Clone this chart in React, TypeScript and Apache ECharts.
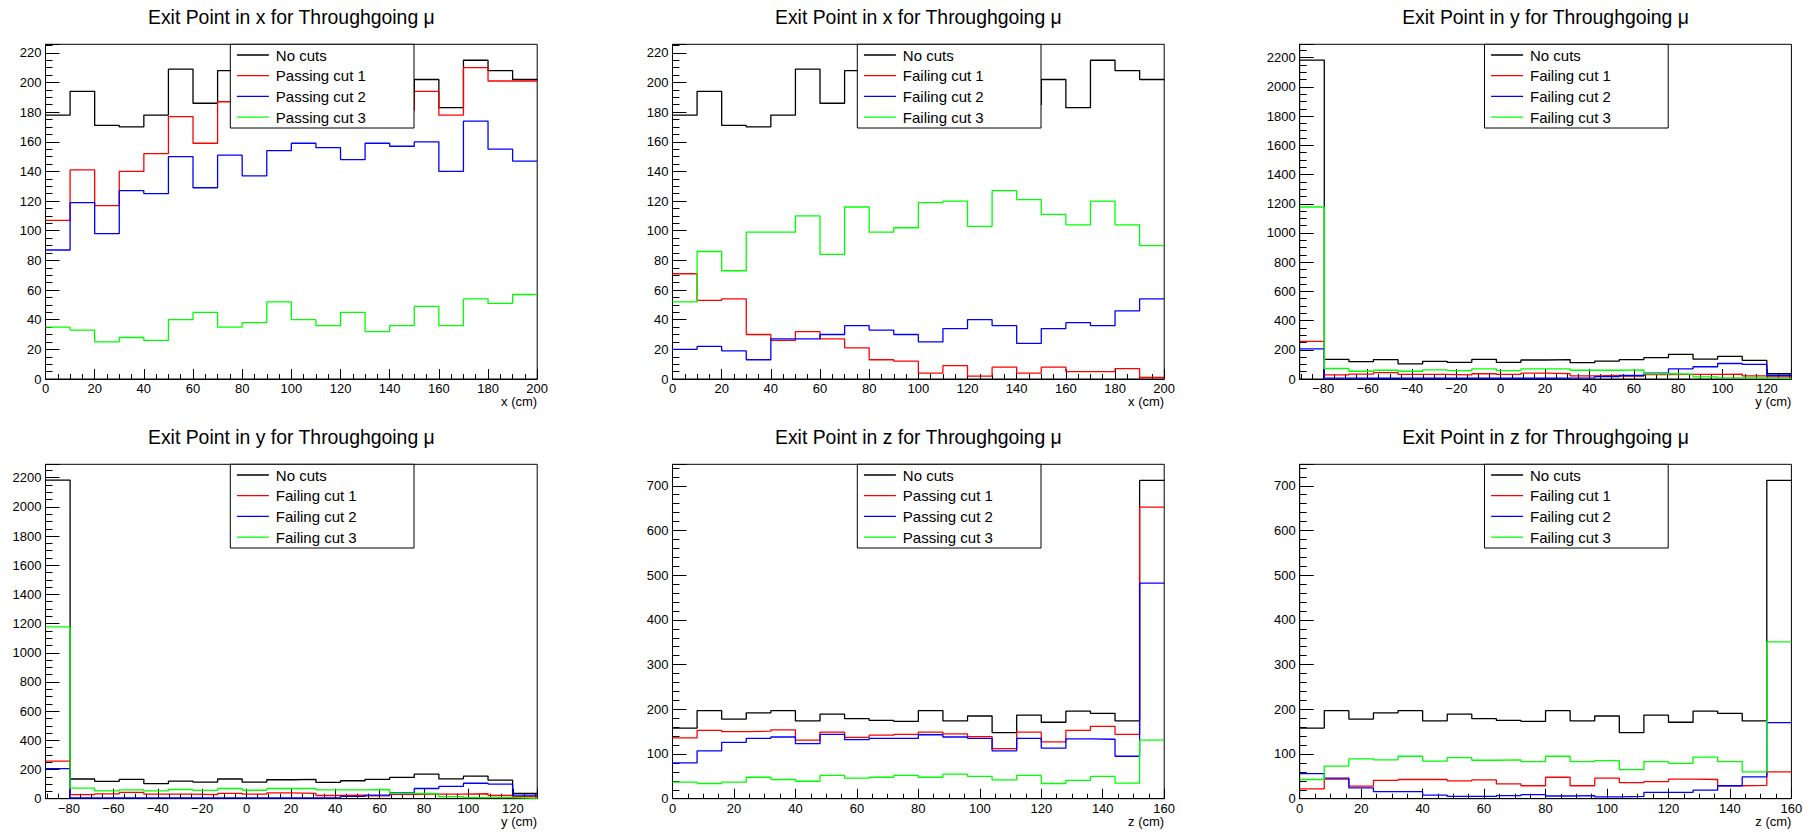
import React, { useEffect, useRef } from 'react';
import * as echarts from 'echarts';

const FONT = "'Liberation Sans', Arial, Helvetica, sans-serif";

// ---------- bin edges ----------
const xEdges = [0, 10, 20, 30, 40, 50, 60, 70, 80, 90, 100, 110, 120, 130, 140, 150, 160, 170, 180, 190, 200];
const zEdges = [0, 8, 16, 24, 32, 40, 48, 56, 64, 72, 80, 88, 96, 104, 112, 120, 128, 136, 144, 152, 160];
const yLow = -90.6;
const yHigh = 131.0;
const yEdges = Array.from({ length: 21 }, (_, k) => +(yLow + (k * (yHigh - yLow)) / 20).toFixed(3));

// ---------- exit point in x ----------
const xNoCuts = [178, 194, 171, 170, 178, 209, 186, 208, 183, 196, 188, 199, 190, 203, 185, 202, 183, 215, 208, 202];
const xPass1 = [107, 141, 117, 140, 152, 177, 159, 187, 170, 184, 184, 190, 188, 195, 181, 194, 178, 210, 201, 201];
const xPass2 = [87, 119, 98, 127, 125, 150, 129, 151, 137, 154, 159, 156, 148, 159, 157, 160, 140, 174, 155, 147];
const xPass3 = [35, 33, 25, 28, 26, 40, 45, 35, 38, 52, 40, 36, 45, 32, 36, 49, 36, 54, 51, 57];
const xFail1 = [71, 53, 54, 30, 26, 32, 27, 21, 13, 12, 4, 9, 2, 8, 4, 8, 5, 5, 7, 1];
const xFail2 = [20, 22, 19, 13, 27, 27, 30, 36, 33, 30, 25, 34, 40, 36, 24, 34, 38, 36, 46, 54];
const xFail3 = [52, 86, 73, 99, 99, 110, 84, 116, 99, 102, 119, 120, 103, 127, 121, 111, 104, 120, 104, 90];

// ---------- exit point in y ----------
const yNoCuts = [2183, 135, 119, 133, 103, 121, 114, 135, 114, 130, 133, 112, 123, 133, 146, 169, 136, 155, 128, 36];
const yFail1 = [258, 28, 33, 43, 31, 31, 28, 36, 31, 40, 37, 22, 25, 20, 30, 32, 32, 34, 22, 15];
const yFail2 = [206, 6, 5, 5, 5, 5, 5, 5, 5, 5, 6, 8, 16, 24, 40, 70, 84, 106, 100, 24];
const yFail3 = [1178, 72, 53, 60, 53, 63, 57, 70, 58, 70, 70, 60, 60, 63, 36, 34, 14, 8, 7, 3];

// ---------- exit point in z ----------
const zNoCuts = [158, 197, 178, 192, 197, 174, 189, 179, 175, 173, 197, 174, 185, 148, 187, 171, 196, 191, 174, 712];
const zPass1 = [136, 153, 150, 151, 154, 131, 149, 137, 142, 144, 149, 145, 139, 112, 149, 127, 153, 162, 144, 652];
const zPass2 = [80, 107, 126, 135, 138, 123, 144, 132, 135, 135, 143, 138, 135, 107, 135, 113, 134, 133, 95, 482];
const zPass3 = [37, 34, 37, 48, 43, 39, 52, 46, 48, 52, 48, 55, 50, 42, 52, 34, 41, 50, 35, 131];
const zFail1 = [22, 44, 28, 41, 43, 43, 40, 42, 33, 29, 48, 29, 46, 36, 38, 44, 43, 29, 30, 60];
const zFail2 = [56, 46, 24, 16, 16, 8, 5, 5, 7, 9, 6, 7, 4, 5, 14, 14, 19, 29, 49, 170];
const zFail3 = [43, 73, 89, 87, 95, 84, 92, 86, 87, 83, 95, 83, 85, 65, 83, 79, 93, 83, 60, 351];

const legendPassing = ['No cuts', 'Passing cut 1', 'Passing cut 2', 'Passing cut 3'];
const legendFailing = ['No cuts', 'Failing cut 1', 'Failing cut 2', 'Failing cut 3'];
const COLORS = ['#000000', '#ff0000', '#0000ff', '#00ff00'];

const titleX = 'Exit Point in x for Throughgoing \u03bc';
const titleY = 'Exit Point in y for Throughgoing \u03bc';
const titleZ = 'Exit Point in z for Throughgoing \u03bc';

type Panel = {
  title: string;
  edges: number[];
  series: number[][];
  names: string[];
  xMin: number;
  xMax: number;
  xInterval?: number;
  yMax: number;
  yInterval: number;
  yMinor: number;
  axisName: string;
  col: number;
  row: number;
};

const panels: Panel[] = [
  { title: titleX, edges: xEdges, series: [xNoCuts, xPass1, xPass2, xPass3], names: legendPassing, xMin: 0, xMax: 200, xInterval: 20, yMax: 225.75, yInterval: 20, yMinor: 4, axisName: 'x (cm)', col: 0, row: 0 },
  { title: titleX, edges: xEdges, series: [xNoCuts, xFail1, xFail2, xFail3], names: legendFailing, xMin: 0, xMax: 200, xInterval: 20, yMax: 225.75, yInterval: 20, yMinor: 4, axisName: 'x (cm)', col: 1, row: 0 },
  { title: titleY, edges: yEdges, series: [yNoCuts, yFail1, yFail2, yFail3], names: legendFailing, xMin: yLow, xMax: yHigh, yMax: 2292, yInterval: 200, yMinor: 4, axisName: 'y (cm)', col: 2, row: 0 },
  { title: titleY, edges: yEdges, series: [yNoCuts, yFail1, yFail2, yFail3], names: legendFailing, xMin: yLow, xMax: yHigh, yMax: 2292, yInterval: 200, yMinor: 4, axisName: 'y (cm)', col: 0, row: 1 },
  { title: titleZ, edges: zEdges, series: [zNoCuts, zPass1, zPass2, zPass3], names: legendPassing, xMin: 0, xMax: 160, xInterval: 20, yMax: 748, yInterval: 100, yMinor: 5, axisName: 'z (cm)', col: 1, row: 1 },
  { title: titleZ, edges: zEdges, series: [zNoCuts, zFail1, zFail2, zFail3], names: legendFailing, xMin: 0, xMax: 160, xInterval: 20, yMax: 748, yInterval: 100, yMinor: 5, axisName: 'z (cm)', col: 2, row: 1 },
];

// layout (pixels)
const COL_LEFT = [45.5, 672.5, 1299.7];
const PLOT_W = 491.7;
const ROW_TOP = [44.3, 464.3];
const PLOT_H = [334.7, 334.4];
const TITLE_Y = [17.3, 436.7];

const fmtNum = (v: number) => (v < 0 ? '\u2212' + String(-v) : String(v));

function buildOption() {
  const grid: any[] = [];
  const xAxis: any[] = [];
  const yAxis: any[] = [];
  const series: any[] = [];
  const graphic: any[] = [];

  panels.forEach((p, i) => {
    const left = COL_LEFT[p.col];
    const top = ROW_TOP[p.row];
    const h = PLOT_H[p.row];
    grid.push({ left, top, width: PLOT_W, height: h, show: true, borderColor: '#000', borderWidth: 1, backgroundColor: 'transparent', containLabel: false });

    const xa: any = {
      type: 'value', gridIndex: i, min: p.xMin, max: p.xMax,
      axisLine: { show: true, onZero: false, lineStyle: { color: '#000', width: 1 } },
      axisTick: { show: true, inside: true, length: 10, lineStyle: { color: '#000', width: 1 } },
      minorTick: { show: true, splitNumber: 4, length: 5, lineStyle: { color: '#000', width: 1 } },
      splitLine: { show: false },
      minorSplitLine: { show: false },
      axisLabel: {
        color: '#000', fontSize: 13, fontFamily: FONT, margin: 3,
        showMinLabel: p.xInterval ? true : false, showMaxLabel: p.xInterval ? true : false,
        formatter: (v: number) => (Math.abs(v / 20 - Math.round(v / 20)) < 1e-6 ? fmtNum(Math.round(v)) : ''),
      },
    };
    if (p.xInterval) xa.interval = p.xInterval;
    else xa.splitNumber = 11;
    xAxis.push(xa);

    yAxis.push({
      type: 'value', gridIndex: i, min: 0, max: p.yMax, interval: p.yInterval,
      axisLine: { show: true, onZero: false, lineStyle: { color: '#000', width: 1 } },
      axisTick: { show: true, inside: true, length: 14, lineStyle: { color: '#000', width: 1 } },
      minorTick: { show: true, splitNumber: p.yMinor, length: 7, lineStyle: { color: '#000', width: 1 } },
      splitLine: { show: false },
      minorSplitLine: { show: false },
      axisLabel: {
        color: '#000', fontSize: 13, fontFamily: FONT, margin: 4, showMaxLabel: false,
        formatter: (v: number) => (Math.abs(v / p.yInterval - Math.round(v / p.yInterval)) < 1e-6 ? String(Math.round(v)) : ''),
      },
    });

    p.series.forEach((vals, s) => {
      const data = p.edges.map((e, k) => [e, vals[Math.min(k, vals.length - 1)]]);
      series.push({
        type: 'line', name: p.names[s], xAxisIndex: i, yAxisIndex: i, step: 'end', data,
        symbol: 'none', showSymbol: false, silent: true, z: 2 + s,
        lineStyle: { color: COLORS[s], width: 1.3 }, itemStyle: { color: COLORS[s] },
      });
    });

    // title
    graphic.push({
      type: 'text', z: 100, x: left + PLOT_W / 2, y: TITLE_Y[p.row],
      style: { text: p.title, fill: '#000', fontSize: 19.4, fontFamily: FONT, align: 'center', verticalAlign: 'middle', textAlign: 'center', textVerticalAlign: 'middle' },
    });
    // axis name
    graphic.push({
      type: 'text', z: 100, x: left + PLOT_W, y: top + h + 22.7,
      style: { text: p.axisName, fill: '#000', fontSize: 13, fontFamily: FONT, align: 'right', verticalAlign: 'middle', textAlign: 'right', textVerticalAlign: 'middle' },
    });
    // legend
    const bx = left + 184.8;
    const by = top;
    graphic.push({
      type: 'rect', z: 100, shape: { x: bx, y: by, width: 183.7, height: 83.7 },
      style: { fill: '#ffffff', stroke: '#000', lineWidth: 1 },
    });
    p.names.forEach((name, s) => {
      const cy = by + 10.7 + 20.7 * s;
      graphic.push({
        type: 'line', z: 101, shape: { x1: bx + 6.6, y1: cy, x2: bx + 38.6, y2: cy },
        style: { stroke: COLORS[s], lineWidth: 1.3 },
      });
      graphic.push({
        type: 'text', z: 101, x: bx + 45.5, y: cy,
        style: { text: name, fill: '#000', fontSize: 15, fontFamily: FONT, align: 'left', verticalAlign: 'middle', textAlign: 'left', textVerticalAlign: 'middle' },
      });
    });
  });

  return {
    animation: false,
    backgroundColor: '#ffffff',
    textStyle: { fontFamily: FONT },
    grid, xAxis, yAxis, series, graphic,
  };
}

export default function App() {
  const ref = useRef<HTMLDivElement>(null);
  useEffect(() => {
    if (!ref.current) return;
    const chart = echarts.init(ref.current, null, { renderer: 'svg' });
    chart.setOption(buildOption() as any);
    return () => chart.dispose();
  }, []);
  return (
    <div
      ref={ref}
      style={{ position: 'absolute', left: 0, top: 0, width: 1816, height: 832, background: '#fff' }}
    />
  );
}
